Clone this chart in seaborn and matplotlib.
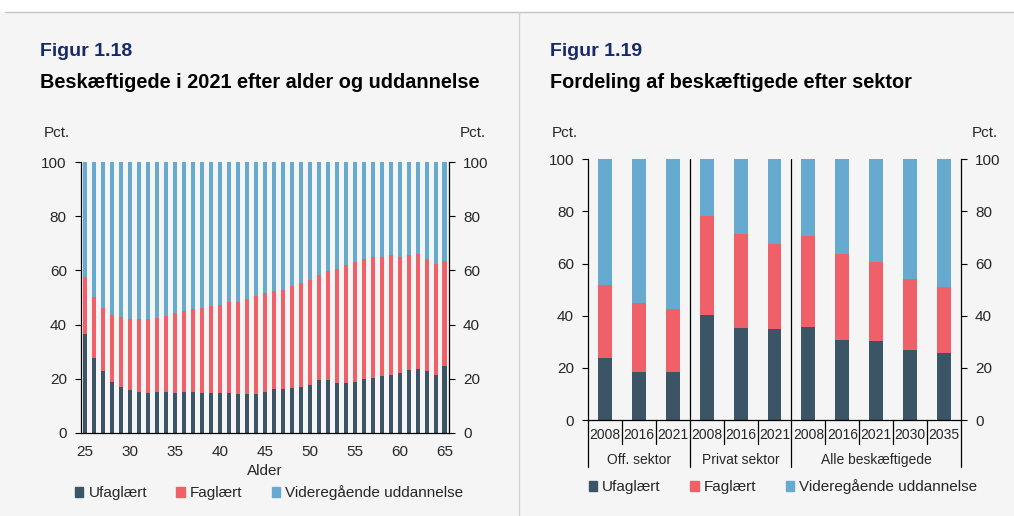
import pandas as pd
import seaborn as sns
import matplotlib.pyplot as plt
from matplotlib.patches import Patch, Rectangle
from matplotlib.lines import Line2D
import matplotlib.transforms as mtransforms

# Data: figur 1.18 (andel i pct. efter alder)
ages = list(range(25, 66))
ufaglaert_alder = [36.7, 27.8, 22.7, 18.7, 16.8, 15.7, 15.2, 14.9, 15.2, 15.2,
                   14.9, 15.2, 15.2, 14.9, 14.9, 14.6, 14.9, 14.5, 14.5, 14.5,
                   15.2, 16.3, 16.3, 16.7, 17.1, 17.8, 19.4, 19.4, 18.5, 18.3,
                   19.0, 19.8, 20.4, 20.9, 21.3, 22.0, 23.1, 23.8, 22.9, 21.5,
                   24.9]
faglaert_alder = [20.9, 22.4, 23.5, 25.0, 26.0, 26.2, 26.7, 27.0, 27.2, 28.0,
                  29.2, 29.9, 30.6, 31.3, 31.8, 32.8, 33.6, 34.0, 35.0, 35.9,
                  36.3, 36.2, 36.6, 37.4, 38.1, 38.5, 38.8, 40.3, 41.9, 43.6,
                  44.1, 44.3, 44.6, 44.1, 44.2, 43.1, 42.4, 42.3, 41.2, 40.8,
                  38.6]

# Data: figur 1.19 (fordeling efter sektor)
sektorer = ['Off. sektor', 'Privat sektor', 'Alle beskæftigede']
aar = ['2008', '2016', '2021', '2008', '2016', '2021', '2008', '2016', '2021', '2030', '2035']
gruppe = [0, 0, 0, 1, 1, 1, 2, 2, 2, 2, 2]
ufaglaert_sektor = [23.9, 18.5, 18.3, 40.4, 35.4, 34.8, 35.8, 30.6, 30.2, 27.0, 25.8]
faglaert_sektor = [27.9, 26.5, 24.3, 38.0, 36.1, 32.8, 34.9, 33.1, 30.3, 27.0, 25.1]

labels = ['Ufaglært', 'Faglært', 'Videregående uddannelse']
colors = ['#3b5466', '#ef6068', '#66abcf']
bg = '#f5f5f5'

sns.set_style('white')
plt.rcParams['font.family'] = ['Liberation Sans', 'DejaVu Sans']

W, H = 1014, 516
fig = plt.figure(figsize=(W / 100, H / 100), dpi=100, facecolor=bg)


def px(x, y):
    return x / W, 1 - y / H


def stacked(ax, keys, uf, fa, width):
    df = pd.DataFrame({'key': keys, 'uf': uf, 'fa': fa})
    df['top'] = 100.0
    df['mid'] = df['uf'] + df['fa']
    for col, c in zip(['top', 'mid', 'uf'], colors[::-1]):
        sns.barplot(data=df, x='key', y=col, order=keys, color=c,
                    saturation=1, width=width, ax=ax, linewidth=0)


def style_y(ax):
    ax.set_facecolor(bg)
    ax.set_ylim(0, 100)
    ax.set_yticks(range(0, 101, 20))
    ax.tick_params(axis='y', left=True, right=True, labelleft=True, labelright=True,
                   direction='out', length=4, width=0.8, color='black',
                   labelsize=11, pad=6)
    for s in ['left', 'right', 'bottom']:
        ax.spines[s].set_color('black')
        ax.spines[s].set_linewidth(0.9)
    ax.spines['top'].set_visible(False)
    ax.set_xlabel('')
    ax.set_ylabel('')


# ---- Figur 1.18 ----
l, b = px(80.7, 433)
ax1 = fig.add_axes([l, b, (449 - 80.7) / W, (433 - 162) / H])
keys1 = [str(a) for a in ages]
stacked(ax1, keys1, ufaglaert_alder, faglaert_alder, 0.45)
style_y(ax1)
ax1.set_xlim(-0.5, len(ages) - 0.5)
ax1.set_xticks([i for i, a in enumerate(ages) if a % 5 == 0])
ax1.set_xticklabels([str(a) for a in ages if a % 5 == 0])
ax1.set_xticks([i - 0.5 for i in range(len(ages) + 1)], minor=True)
ax1.tick_params(axis='x', which='major', length=0, labelsize=11, pad=9)
ax1.tick_params(axis='x', which='minor', length=4, width=0.8, color='black', direction='out')
ax1.set_xlabel('Alder', fontsize=11, labelpad=3)
ax1.legend(handles=[Patch(color=c, label=t) for c, t in zip(colors, labels)],
           loc='center left', bbox_to_anchor=(px(75, 493)), bbox_transform=fig.transFigure,
           ncol=3, frameon=False, fontsize=11, handlelength=0.55, handleheight=0.55,
           handletextpad=0.35, columnspacing=1.9, borderpad=0, borderaxespad=0)

# ---- Figur 1.19 ----
l, b = px(588, 420)
ax2 = fig.add_axes([l, b, (961 - 588) / W, (420 - 159.3) / H])
keys2 = [f'{g}-{a}' for g, a in zip(gruppe, aar)]
stacked(ax2, keys2, ufaglaert_sektor, faglaert_sektor, 0.41)
style_y(ax2)
ax2.set_xlim(-0.5, len(aar) - 0.5)
ax2.set_xticks([])
tr = mtransforms.blended_transform_factory(ax2.transData, ax2.transAxes)
low = -47 / 260.7
mid = -24 / 260.7
for xs in [-0.5, 10.5]:
    ax2.add_line(Line2D([xs, xs], [low, 0], transform=tr, color='black', lw=0.9, clip_on=False))
for xs in [2.5, 5.5]:
    ax2.add_line(Line2D([xs, xs], [low, 1], transform=tr, color='black', lw=0.9, clip_on=False))
for xs in [0.5, 1.5, 3.5, 4.5, 6.5, 7.5, 8.5, 9.5]:
    ax2.add_line(Line2D([xs, xs], [mid, 0], transform=tr, color='black', lw=0.9, clip_on=False))
for i, a in enumerate(aar):
    ax2.text(i, -15 / 260.7, a, transform=tr, ha='center', va='center', fontsize=10)
for g, name in enumerate(sektorer):
    idx = [i for i, gg in enumerate(gruppe) if gg == g]
    ax2.text((idx[0] + idx[-1]) / 2, -40 / 260.7, name, transform=tr,
             ha='center', va='center', fontsize=10)
ax2.legend(handles=[Patch(color=c, label=t) for c, t in zip(colors, labels)],
           loc='center left', bbox_to_anchor=(px(589, 487)), bbox_transform=fig.transFigure,
           ncol=3, frameon=False, fontsize=11, handlelength=0.55, handleheight=0.55,
           handletextpad=0.3, columnspacing=1.95, borderpad=0, borderaxespad=0)

# Overskrifter og "Pct."
for x, t1, t2 in [(40, 'Figur 1.18', 'Beskæftigede i 2021 efter alder og uddannelse'),
                  (550, 'Figur 1.19', 'Fordeling af beskæftigede efter sektor')]:
    fig.text(*px(x, 52), t1, fontsize=14, fontweight='bold', color='#162a6b', va='center')
    fig.text(*px(x, 82), t2, fontsize=14.3, fontweight='bold', color='black', va='center')
for x, ha in [(70, 'right'), (460, 'left'), (578, 'right'), (972, 'left')]:
    fig.text(*px(x, 133), 'Pct.', fontsize=11, ha=ha, va='center')

# Ramme: hvid top, linjer
fig.patches.append(Rectangle((0, px(0, 12)[1]), 1, 1, transform=fig.transFigure,
                             facecolor='white', edgecolor='none', zorder=-1))
fig.add_artist(Line2D([5 / W, 1], [px(0, 12)[1]] * 2, color='#c4c4c4', lw=1))
fig.add_artist(Line2D([519 / W] * 2, [px(0, 12)[1], 0], color='#d2d2d2', lw=1))

plt.savefig('out.png', dpi=100, facecolor=bg)
plt.close()
